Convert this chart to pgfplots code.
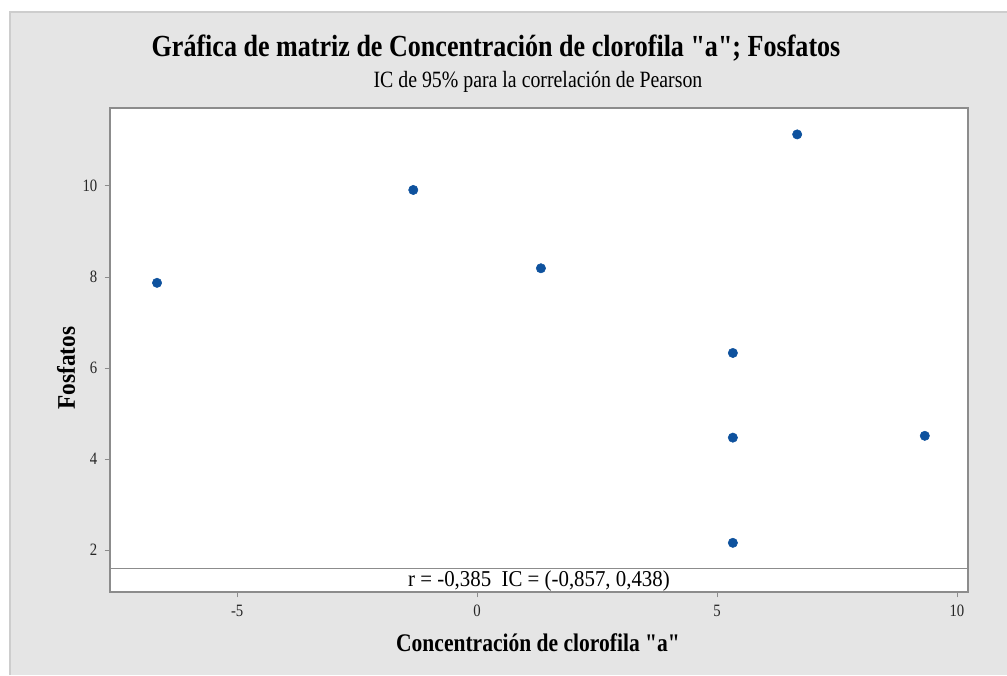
\documentclass[border=0pt]{standalone}
\usepackage{fontspec}
\setmainfont{Liberation Serif}
\newfontfamily\narrowserif{Liberation Serif}[FakeStretch=0.85]
\newfontfamily\stripserif{Liberation Serif}[FakeStretch=0.92]
\usepackage{pgfplots}
\pgfplotsset{compat=1.18}
\definecolor{panelgray}{RGB}{229,229,229}
\definecolor{framegray}{RGB}{205,205,205}
\definecolor{axisgray}{RGB}{140,140,140}
\definecolor{dotblue}{RGB}{14,82,158}
\begin{document}
\begin{tikzpicture}
% canvas 755.25pt x 506.25pt, origin bottom-left
\path[use as bounding box, fill=white] (0pt,0pt) rectangle (755.25pt,506.25pt);
\fill[panelgray] (7.5pt,0pt) rectangle (755.25pt,497.25pt);
\draw[framegray, line width=0.8pt] (7.5pt,0pt) -- (7.5pt,497.25pt) -- (755.25pt,497.25pt);

\begin{axis}[
  at={(82.5pt,62.25pt)}, anchor=south west,
  scale only axis, width=643.5pt, height=363pt,
  xmin=-7.65, xmax=10.23, ymin=1.08, ymax=11.71,
  axis background/.style={fill=white},
  axis line style={axisgray, line width=0.8pt},
  tick style={axisgray, line width=0.6pt},
  major tick length=4pt, tick align=outside,
  xtick pos=bottom, ytick pos=left,
  xtick={-5,0,5,10}, xticklabels={-5,0,5,10},
  ytick={2,4,6,8,10}, yticklabels={2,4,6,8,10},
  ticklabel style={font=\narrowserif\fontsize{13}{15}\selectfont, text=black!85},
  xticklabel style={yshift=-2pt},
  yticklabel style={xshift=-2pt},
  clip=false,
]
% correlation strip at the foot of the panel
\draw[axisgray, line width=0.8pt] (axis cs:-7.65,1.60) -- (axis cs:10.23,1.60);
\node[font=\stripserif\fontsize{17}{19}\selectfont, anchor=center]
  at (axis cs:1.29,1.33) {r = -0,385\ \ IC = (-0,857, 0,438)};

\addplot[only marks, mark=*, mark size=3.5pt,
  mark options={fill=dotblue, draw=dotblue}]
  table[row sep=\\] {
    x y \\
    -6.67 7.87 \\
    -1.33 9.91 \\
     1.33 8.19 \\
     6.67 11.13 \\
     5.33 6.33 \\
     5.33 4.47 \\
     9.33 4.51 \\
     5.33 2.16 \\
  };
\end{axis}

\node[font=\narrowserif\bfseries\fontsize{23}{26}\selectfont] at (372pt,470.25pt) {Gráfica de matriz de Concentración de clorofila "a"; Fosfatos};
\node[font=\narrowserif\fontsize{17.5}{20}\selectfont] at (403.5pt,444.75pt) {IC de 95\% para la correlación de Pearson};
\node[font=\narrowserif\bfseries\fontsize{19}{22}\selectfont] at (403.5pt,24pt) {Concentración de clorofila "a"};
\node[font=\stripserif\bfseries\fontsize{19}{22}\selectfont, rotate=90] at (49.5pt,230.25pt) {Fosfatos};
\end{tikzpicture}
\end{document}
